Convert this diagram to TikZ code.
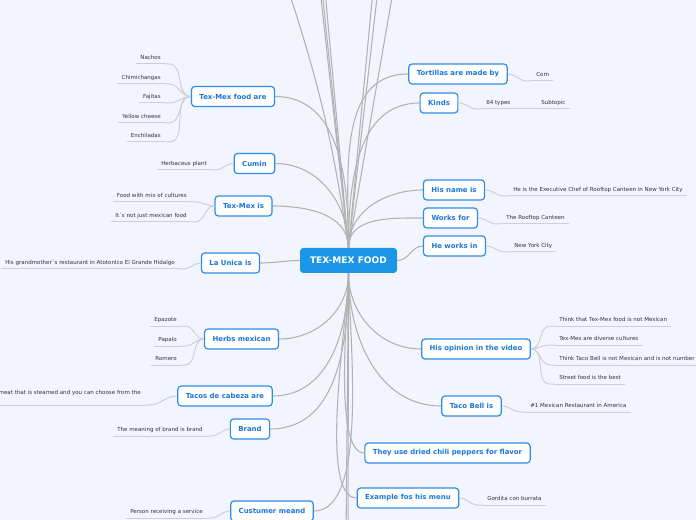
\documentclass[tikz,border=0pt]{standalone}
\usepackage{fontspec}
\setmainfont{DejaVu Sans}
\usepackage{xcolor}
\usepackage{tikz}
\usetikzlibrary{positioning}

\definecolor{pagebg}{RGB}{242,245,253}
\definecolor{rootblue}{RGB}{27,150,230}
\definecolor{topicblue}{RGB}{28,118,220}
\definecolor{topicline}{RGB}{45,140,235}
\definecolor{branchgray}{RGB}{178,178,178}
\definecolor{leafgray}{RGB}{205,207,214}
\definecolor{leaftext}{RGB}{50,50,60}

\begin{document}
\begin{tikzpicture}[x=0.75pt,y=0.75pt,
    root/.style={fill=rootblue, rounded corners=2.5pt, text=white,
      font=\fontsize{6.8}{8}\selectfont\bfseries, minimum width=72.75pt, minimum height=18.75pt},
    topic/.style={draw=topicline, line width=0.9pt, fill=white, rounded corners=2.5pt,
      text=topicblue, font=\fontsize{5.2}{6}\selectfont\bfseries, inner xsep=6pt, minimum height=15pt},
    leafl/.style={anchor=south east, text=leaftext, font=\fontsize{4.15}{5}\selectfont,
      inner xsep=3pt, inner ysep=3pt, text height=3pt, text depth=0pt},
    leafr/.style={leafl, anchor=south west},
    branch/.style={draw=branchgray, line width=0.8pt},
    twig/.style={draw=leafgray, line width=0.75pt}]

  % page
  \useasboundingbox (0,0) rectangle (696,-520);
  \clip (0,0) rectangle (696,-520);
  \fill[pagebg] (0,0) rectangle (696,-520);

  % centre
  \node[root] (root) at (348.5,-260.5) {TEX-MEX FOOD};

  % topics left
  \node[topic] (texmexfood) at (233,-96.5) {Tex-Mex food are};
  \node[topic] (cumin) at (254.5,-163.5) {Cumin};
  \node[topic] (texmexis) at (243.5,-206) {Tex-Mex is};
  \node[topic] (launica) at (230.5,-263) {La Unica is};
  \node[topic] (herbs) at (241.5,-339) {Herbs mexican};
  \node[topic] (tacos) at (225,-396) {Tacos de cabeza are};
  \node[topic] (brand) at (250,-429) {Brand};
  \node[topic] (custumer) at (272,-511) {Custumer meand};

  % topics right
  \node[topic] (tortillas) at (458,-74) {Tortillas are made by};
  \node[topic] (kinds) at (439,-103) {Kinds};
  \node[topic] (hisname) at (454,-190) {His name is};
  \node[topic] (worksfor) at (450.5,-218) {Works for};
  \node[topic] (worksin) at (454.5,-246) {He works in};
  \node[topic] (opinion) at (476,-349) {His opinion in the video};
  \node[topic] (tacobell) at (471.5,-406) {Taco Bell is};
  \node[topic] (theyuse) at (447.5,-453) {They use dried chili peppers for flavor};
  \node[topic] (example) at (408,-498) {Example fos his menu};

  % leaves left
  \node[leafl] (nachos) at (165,-64) {Nachos};
  \node[leafl] (chimi) at (165,-84) {Chimichangas};
  \node[leafl] (fajitas) at (165,-103) {Fajitas};
  \node[leafl] (yellow) at (165,-123) {Yellow cheese};
  \node[leafl] (enchi) at (165,-142) {Enchiladas};
  \node[leafl] (herbaceus) at (211,-170) {Herbaceus plant};
  \node[leafl] (foodmix) at (191,-202) {Food with mix of cultures};
  \node[leafl] (notjust) at (191,-222) {It´s not just mexican food};
  \node[leafl] (grandma) at (179,-269) {His grandmother´s restaurant in Atotonlco El Grande Hidalgo};
  \node[leafl] (epazote) at (181,-326) {Epazote};
  \node[leafl] (papalo) at (181,-346) {Papalo};
  \node[leafl] (romero) at (181,-365) {Romero};
  \node[leafl, inner ysep=7.9pt] (steamed) at (145,-405) {meat that is steamed and you can choose from the};
  \node[leafl] (brandleaf) at (207,-436) {The meaning of brand is brand};
  \node[leafl] (person) at (207,-518) {Person receiving a service};

  % leaves right
  \node[leafr] (corn) at (532,-81) {Corn};
  \node[leafr] (types) at (482,-109) {64 types};
  \node[leafr] (subtopic) at (537,-109) {Subtopic};
  \node[leafr] (exec) at (509,-196) {He is the Executive Chef of Rooftop Canteen in New York City};
  \node[leafr] (rooftop) at (502,-224) {The Rooftop Canteen};
  \node[leafr] (nyc) at (510,-252) {New York City};
  \node[leafr] (think1) at (555,-326) {Think that Tex-Mex food is not Mexican};
  \node[leafr] (diverse) at (555,-345) {Tex-Mex are diverse cultures};
  \node[leafr] (think2) at (555,-365) {Think Taco Bell is not Mexican and is not number};
  \node[leafr] (street) at (555,-384) {Street food is the best};
  \node[leafr] (number1) at (526,-412) {\#1 Mexican Restaurant in America};
  \node[leafr] (gordita) at (483,-505) {Gordita con burrata};

  % branches going off the page
  \coordinate (up1) at (285,20);
  \coordinate (up2) at (319,20);
  \coordinate (up3) at (321,20);
  \coordinate (up4) at (324,20);
  \coordinate (up5) at (374,20);
  \coordinate (up6) at (379,20);
  \coordinate (up7) at (395,20);
  \coordinate (down1) at (346,-540);
  \coordinate (down2) at (348,-540);
  \draw[branch] (root.north) to[bend right=5] (up1);
  \foreach \u in {up2,up3,up4,up5,up6,up7}
    \draw[branch] (root.north) -- (\u);
  \foreach \d in {down1,down2}
    \draw[branch] (root.south) -- (\d);

  % branches to topics
  \foreach \t in {texmexfood,cumin,texmexis}
    \draw[branch] (\t.east) to[out=0,in=90] (root.north);
  \foreach \t in {tortillas,kinds,hisname,worksfor}
    \draw[branch] (root.north) to[out=90,in=180] (\t.west);
  \draw[branch] (launica.east) to[out=0,in=180] (root.west);
  \draw[branch] (root.east) to[out=0,in=180] (worksin.west);
  \foreach \t in {herbs,tacos,brand}
    \draw[branch] (\t.east) to[out=0,in=-90] (root.south);
  \draw[branch] (custumer.east) to[out=0,in=-90,looseness=0.6] (root.south);
  \foreach \t in {opinion,tacobell}
    \draw[branch] (root.south) to[out=-90,in=180] (\t.west);
  \foreach \t in {theyuse,example}
    \draw[branch] (root.south) to[out=-90,in=180,looseness=0.45] (\t.west);

  % underlines
  \foreach \n in {nachos,chimi,fajitas,yellow,enchi,herbaceus,foodmix,notjust,grandma,
      epazote,papalo,romero,steamed,brandleaf,person,corn,types,subtopic,exec,rooftop,
      nyc,think1,diverse,think2,street,number1,gordita}
    \draw[twig] (\n.south west) -- (\n.south east);

  % twigs left
  \foreach \n/\t in {nachos/texmexfood,chimi/texmexfood,fajitas/texmexfood,yellow/texmexfood,
      enchi/texmexfood,herbaceus/cumin,foodmix/texmexis,notjust/texmexis,grandma/launica,
      epazote/herbs,papalo/herbs,romero/herbs,steamed/tacos,brandleaf/brand,person/custumer}
    \draw[twig] (\n.south east) -- ++(4,0) to[out=0,in=180] (\t.west);

  % twigs right
  \foreach \t/\n in {tortillas/corn,kinds/types,hisname/exec,worksfor/rooftop,worksin/nyc,
      opinion/think1,opinion/diverse,opinion/think2,opinion/street,tacobell/number1,example/gordita}
    \draw[twig] (\t.east) to[out=0,in=180] ([xshift=-3.75pt]\n.south west) -- (\n.south west);
  \draw[twig] (types.south east) -- (subtopic.south west);
\end{tikzpicture}
\end{document}
